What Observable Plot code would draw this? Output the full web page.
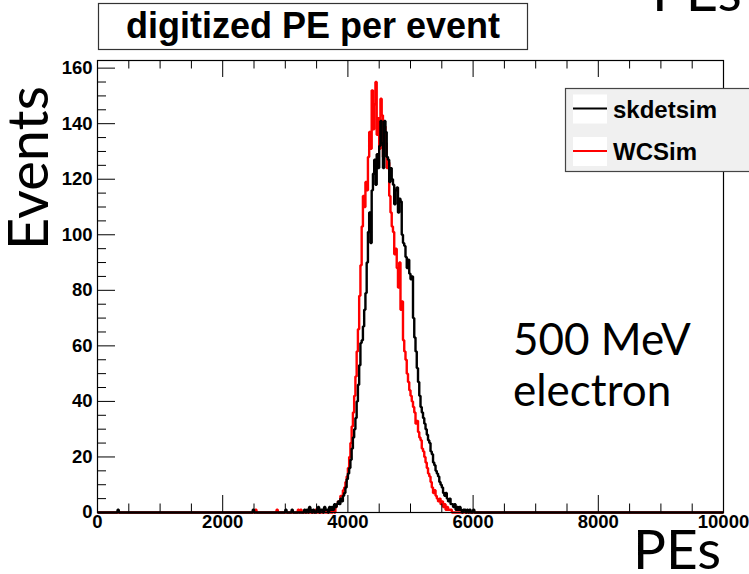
<!DOCTYPE html>
<html>
<head>
<meta charset="utf-8">
<script src="https://cdn.jsdelivr.net/npm/d3@7"></script>
<script src="https://cdn.jsdelivr.net/npm/@observablehq/plot@0.6"></script>
<style>
  body { margin: 0; background: #fff; }
  #chart svg { display: block; }
</style>
</head>
<body>
<div id="chart"></div>
<script>
// Digitized photo-electrons per event, 500 MeV electrons: skdetsim vs WCSim.
// Histogram counts in 20 PE bins, first bin starting at 2400 PE.
const binWidth = 20;
const firstBinPE = 2400;

const skdetsim = [
  0,0,0,0,1,0,0,0,0,0,          // 2400
  0,0,0,0,0,0,0,0,0,0,          // 2600
  0,0,0,0,0,0,0,0,0,0,          // 2800
  1,0,0,0,0,1,0,0,0,0,          // 3000
  0,0,0,0,0,1,0,1,0,2,          // 3200
  1,0,1,0,0,1,2,0,1,1,          // 3400
  0,2,1,1,0,2,1,2,1,3,          // 3600
  2,3,4,3,5,4,6,7,9,12,         // 3800
  14,16,19,23,27,30,34,40,46,53,        // 4000
  61,62,67,73,79,90,101,108,97,116,     // 4200
  122,127,118,129,124,132,141,133,124,141, // 4400
  137,128,127,119,124,120,118,111,116,117, // 4600
  108,113,112,100,97,96,92,88,91,86,    // 4800
  84,85,70,63,58,52,47,42,38,36,        // 5000
  34,32,30,28,26,25,22,21,18,17,        // 5200
  15,14,13,11,10,9,7,6,7,5,             // 5400
  4,5,3,3,2,3,1,2,1,2,                  // 5600
  1,0,1,1,0,1,0,1,0,0,                  // 5800
  1,0,0,0,0                             // 6000
];

const wcsim = [
  0,0,0,0,0,0,1,0,0,0,          // 2400
  0,0,0,0,0,0,0,0,0,0,          // 2600
  0,0,0,1,0,0,0,0,0,0,          // 2800
  0,0,0,0,0,0,0,0,0,0,          // 3000
  1,0,1,0,0,0,0,0,0,0,          // 3200
  0,0,0,0,1,0,0,0,0,0,          // 3400
  0,1,0,0,0,1,0,0,1,0,          // 3600
  2,3,4,4,6,6,8,9,11,13,        // 3800
  16,20,25,31,36,42,49,58,66,78,        // 4000
  89,103,114,110,119,116,128,137,131,152, // 4200
  138,147,155,136,142,131,149,143,128,139, // 4400
  133,124,126,114,108,103,101,93,95,88, // 4600
  81,90,73,76,62,58,55,50,47,44,        // 4800
  42,40,38,36,32,33,29,27,26,23,        // 5000
  22,20,18,16,14,13,11,9,7,8,           // 5200
  6,5,4,5,3,4,2,3,1,2,                  // 5400
  1,1,1,0,0,0,0,0,0,0,                  // 5600
  0,0,0,0,0,0,0,0,0,0,                  // 5800
  0,0,0,0,0                             // 6000
];

// Single events far below the peak
const skdetsimLoneEvents = [320];
const wcsimLoneEvents = [];

const xTickLabels = [0, 2000, 4000, 6000, 8000, 10000];
const yTickLabels = [0, 20, 40, 60, 80, 100, 120, 140, 160];
const xMax = 10000;
const yMax = 162.75;

const W = 749, H = 574;
const mL = 97, mR = 26, mT = 60, mB = 62;
const xPerPx = xMax / (W - mL - mR);
const yPerPx = yMax / (H - mT - mB);

function steps(counts, lone) {
  const full = new Array(xMax / binWidth).fill(0);
  counts.forEach((c, i) => { full[firstBinPE / binWidth + i] += c; });
  lone.forEach(pe => { full[Math.floor(pe / binWidth)] += 1; });
  const pts = full.map((c, i) => ({pe: i * binWidth, n: c}));
  pts.push({pe: xMax, n: full[full.length - 1]});
  return pts;
}

const black = steps(skdetsim, skdetsimLoneEvents);
const red = steps(wcsim, wcsimLoneEvents);

const xTicks = d3.range(0, xMax + 1, 500);
const yTicks = d3.range(0, 161, 5);
const xLen = d => (d % 2000 === 0 ? 17 : 8.5);
const yLen = d => (d % 20 === 0 ? 18 : 9);

const lineOpts = {strokeWidth: 2.4, strokeLinejoin: "miter", strokeLinecap: "butt", curve: "step-after"};

const chart = Plot.plot({
  width: W,
  height: H,
  marginLeft: mL,
  marginRight: mR,
  marginTop: mT,
  marginBottom: mB,
  style: {fontFamily: "'Liberation Sans', Arial, sans-serif", background: "white", color: "black"},
  x: {domain: [0, xMax]},
  y: {domain: [0, yMax]},
  marks: [
    Plot.line(red, {x: "pe", y: "n", stroke: "#ff0000", ...lineOpts}),
    Plot.line(black, {x: "pe", y: "n", stroke: "#000000", ...lineOpts}),
    // inward ticks along bottom, top and left edges of the frame
    Plot.ruleX(xTicks, {x: d => d, y1: 0, y2: d => xLen(d) * yPerPx, stroke: "black", strokeWidth: 1}),
    Plot.ruleX(xTicks, {x: d => d, y1: yMax, y2: d => yMax - xLen(d) * yPerPx, stroke: "black", strokeWidth: 1}),
    Plot.ruleY(yTicks, {y: d => d, x1: 0, x2: d => yLen(d) * xPerPx, stroke: "black", strokeWidth: 1}),
    Plot.frame({stroke: "black", strokeWidth: 1.2}),
    Plot.axisX({ticks: xTickLabels, tickSize: 0, tickPadding: 2, tickFormat: d => String(d), fontSize: 18.5, fontWeight: "bold", label: null}),
    Plot.axisY({ticks: yTickLabels, tickSize: 0, tickPadding: 5, tickFormat: d => String(d), fontSize: 18.5, fontWeight: "bold", label: null})
  ]
});

document.getElementById("chart").append(chart);

const svg = d3.select(chart);
const sans = "'Liberation Sans', Arial, sans-serif";
const big = "Lato, 'Open Sans', sans-serif";

function addText(parent, x, y, str, family, size, weight, anchor) {
  return parent.append("text").attr("x", x).attr("y", y)
    .attr("text-anchor", anchor || "start")
    .attr("font-family", family).attr("font-size", size)
    .attr("font-weight", weight || "normal").attr("fill", "black").text(str);
}

// title box
const tg = svg.append("g");
tg.append("rect").attr("x", 98.5).attr("y", 3.5).attr("width", 429).attr("height", 46)
  .attr("fill", "white").attr("stroke", "#333").attr("stroke-width", 1.2);
addText(tg, 313, 38, "digitized PE per event", sans, 36, "bold", "middle");

// legend
const lg = svg.append("g");
lg.append("rect").attr("x", 565.5).attr("y", 88.5).attr("width", 200).attr("height", 83)
  .attr("fill", "#f0f0f0").attr("stroke", "#444").attr("stroke-width", 1.2);
const entries = [{name: "skdetsim", color: "#000000", y: 108.5}, {name: "WCSim", color: "#ff0000", y: 151}];
entries.forEach(e => {
  lg.append("rect").attr("x", 573).attr("y", e.y - 14).attr("width", 34).attr("height", 29).attr("fill", "white");
  lg.append("line").attr("x1", 573).attr("x2", 607).attr("y1", e.y).attr("y2", e.y)
    .attr("stroke", e.color).attr("stroke-width", 2);
  addText(lg, 613, e.y + 9, e.name, sans, 24, "bold");
});

// large slide annotations
svg.append("text").attr("transform", "translate(48,250) rotate(-90)")
  .attr("text-anchor", "start")
  .attr("font-family", big).attr("font-size", 56).attr("fill", "black").text("Events");
addText(svg, 633, 569, "PEs", big, 55);
addText(svg, 652, 11, "PEs", big, 56);
addText(svg, 513, 355, "500 MeV", big, 44);
addText(svg, 513, 406, "electron", big, 44);
</script>
</body>
</html>
